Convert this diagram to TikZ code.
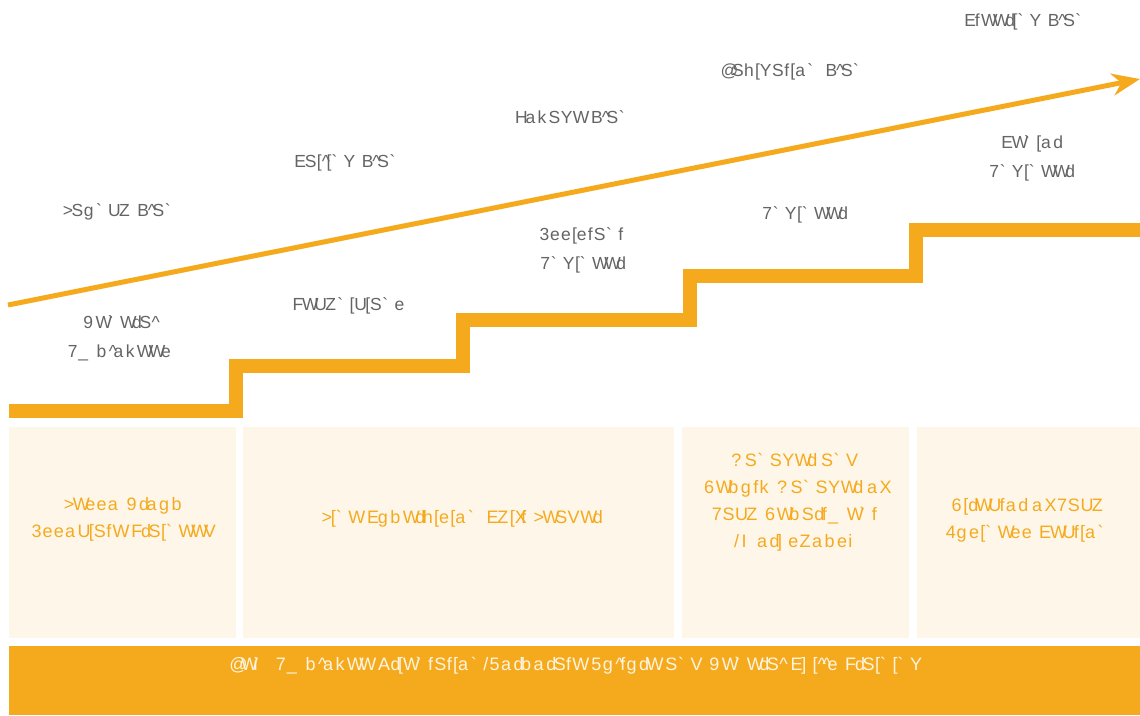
\documentclass[tikz,border=0pt]{standalone}
\usepackage{fontspec}
\setmainfont{Liberation Sans}[Ligatures=TeXOff]
\usetikzlibrary{arrows.meta}
\definecolor{orng}{RGB}{245,170,30}
\definecolor{cream}{RGB}{254,246,233}
\definecolor{labgray}{RGB}{100,100,100}
\definecolor{foottext}{RGB}{255,244,222}
\ExplSyntaxOn
\box_new:N \l__gar_box
\tl_new:N \l_gar_up_tl
\tl_new:N \l_gar_low_tl
\tl_set:Nn \l_gar_up_tl {0.9}
\tl_set:Nn \l_gar_low_tl {1.25}
\cs_new_protected:Npn \__gar_glyph:n #1
  {
    \str_case:nnF {#1}
      {
        { ( } { / }
        { ) } { i }
        { / } { / }
      }
      { \char \int_eval:n { `#1 - 14 } \scan_stop: }
  }
\cs_new_protected:Npn \__gar_one:n #1
  {
    \tl_if_blank:nTF {#1}
      { \skip_horizontal:n { \l_gar_low_tl \fontdimen2\font } }
      {
        \hbox_set:Nn \l__gar_box {#1}
        \int_compare:nTF { 65 <= `#1 <= 90 }
          { \hbox_to_wd:nn { \l_gar_up_tl \box_wd:N \l__gar_box } { \__gar_glyph:n {#1} \hss } }
          { \hbox_to_wd:nn { \l_gar_low_tl \box_wd:N \l__gar_box } { \__gar_glyph:n {#1} \hss } }
      }
  }
\NewDocumentCommand \gar { m } { \str_map_inline:nn {#1} { \__gar_one:n {##1} } }
\ExplSyntaxOff
\tikzset{
  lbl/.style={text=labgray, font=\fontsize{17.5}{29}\selectfont, align=center, inner sep=0pt},
  boxtxt/.style={text=orng, font=\fontsize{18}{27}\selectfont, align=center, inner sep=0pt},
  foot/.style={text=foottext, font=\fontsize{18}{24}\selectfont, inner sep=0pt},
  pane/.style={fill=cream, draw=none, inner sep=0pt},
  band/.style={fill=orng, draw=none, inner sep=0pt},
  stairline/.style={draw=orng, line width=14pt, line join=miter, line cap=butt},
  growth/.style={draw=orng, line width=5pt, -{Stealth[length=28pt,width=22pt,inset=9pt]}}
}
\begin{document}
\begin{tikzpicture}[x=1pt,y=-1pt]
\useasboundingbox (0,0) rectangle (1140,715);
% growth arrow
\coordinate (as) at (8,305);
\coordinate (ae) at (1140,79);
\draw[growth] (as) -- (ae);
% stairs
\coordinate (s0) at (9,411);
\coordinate (s1) at (236,411);
\coordinate (s2) at (236,366);
\coordinate (s3) at (463,366);
\coordinate (s4) at (463,320);
\coordinate (s5) at (690,320);
\coordinate (s6) at (690,276);
\coordinate (s7) at (916,276);
\coordinate (s8) at (916,230);
\coordinate (s9) at (1140,230);
\draw[stairline] (s0) -- (s1) -- (s2) -- (s3) -- (s4) -- (s5) -- (s6) -- (s7) -- (s8) -- (s9);
% plan labels
\node[lbl] (steer) at (1026,22) {\gar{Steering Plan}};
\node[lbl] (navig) at (793,72) {\gar{Navigation Plan}};
\node[lbl] (voyage) at (573,117) {\gar{Voyage Plan}};
\node[lbl] (sail) at (348,163) {\gar{Sailing Plan}};
\node[lbl] (launch) at (120,212) {\gar{Launch Plan}};
% rank labels
\node[lbl] (senior) at (1031,158) {\gar{Senior}\\\gar{Engineer}};
\node[lbl] (eng) at (804,215) {\gar{Engineer}};
\node[lbl] (asst) at (582,250) {\gar{Assistant}\\\gar{Engineer}};
\node[lbl] (tech) at (349,306) {\gar{Technicians}};
\node[lbl] (gen) at (120,338) {\gar{General}\\\gar{Employees}};
% bottom panes
\node[pane, minimum width=227pt, minimum height=211pt] (p1) at (122.5,532.5) {};
\node[pane, minimum width=431pt, minimum height=211pt] (p2) at (458.5,532.5) {};
\node[pane, minimum width=227pt, minimum height=211pt] (p3) at (795.5,532.5) {};
\node[pane, minimum width=223pt, minimum height=211pt] (p4) at (1028.5,532.5) {};
\node[band, minimum width=1131pt, minimum height=69pt] (ft) at (574.5,680.5) {};
% pane texts
\node[boxtxt] (t1) at (124,519) {\gar{Lesso Group}\\\gar{Associate Traineed}};
\node[boxtxt] (t2) at (461,519) {\gar{Line Supervision Shift Leader}};
\node[boxtxt] (t3) at (795,502) {\gar{Manager and}\\\gar{Deputy Manager of}\\\gar{Each Department}\\\gar{(Workshops)}};
\node[boxtxt] (t4) at (1028,520) {\gar{Director of Each}\\\gar{Business Section}};
\node[foot] (ftxt) at (576,666) {\gar{New Employee Orientation/Corporate Culture and General Skills Training}};
\end{tikzpicture}
\end{document}
